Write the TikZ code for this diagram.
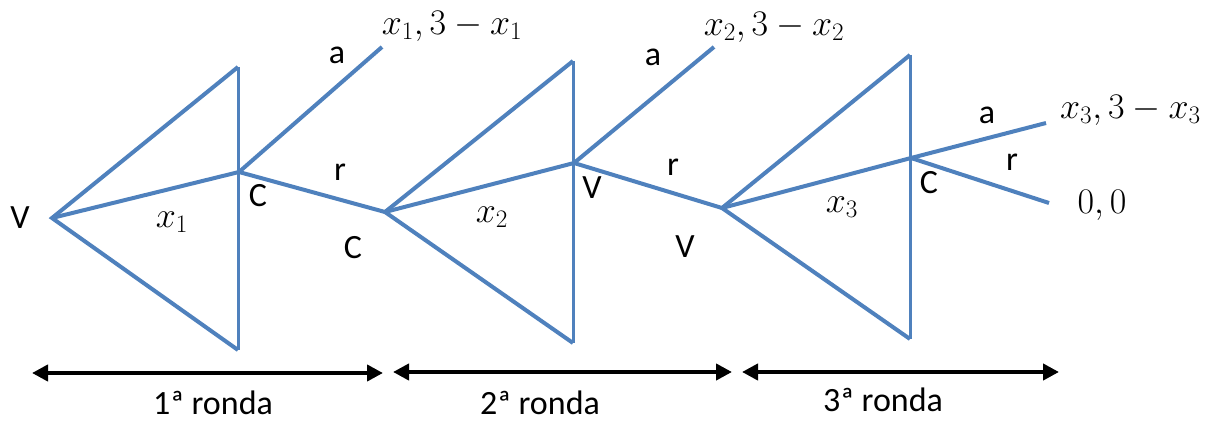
\documentclass[tikz,border=0pt]{standalone}
\usepackage{fix-cm}
\usepackage{fontspec}
\setmainfont{Carlito}
\usetikzlibrary{arrows.meta}
\definecolor{treeblue}{HTML}{4F81BD}
\begin{document}
\begin{tikzpicture}[x=1pt,y=-1pt,
  branch/.style={draw=treeblue,line width=4pt},
  side/.style={draw=treeblue,line width=3pt},
  lbl/.style={font=\fontsize{34}{40}\selectfont,inner sep=0pt},
  mlbl/.style={font=\fontsize{36}{42}\selectfont,inner sep=0pt},
  span/.style={draw=black,line width=4pt,{Triangle[length=16pt,width=16pt]}-{Triangle[length=16pt,width=16pt]}}]
\useasboundingbox (0,0) rectangle (1212,422);
% round 1
\coordinate (V1) at (52,218);
\coordinate (T1) at (238,67);
\coordinate (B1) at (238,350);
\coordinate (M1) at (239,172);
\coordinate (A1) at (382,47);
% round 2
\coordinate (V2) at (385,212);
\coordinate (T2) at (573,61);
\coordinate (B2) at (573,343);
\coordinate (M2) at (574,163);
\coordinate (A2) at (714,47);
% round 3
\coordinate (V3) at (722,208);
\coordinate (T3) at (910,55);
\coordinate (B3) at (910,339);
\coordinate (M3) at (911,158);
\coordinate (A3) at (1046,123);
\coordinate (R3) at (1049,203);
% arrows
\coordinate (L1) at (32,373);
\coordinate (E1) at (383,373);
\coordinate (L2) at (393,372);
\coordinate (E2) at (732,372);
\coordinate (L3) at (742,372);
\coordinate (E3) at (1059,372);

\foreach \i in {1,2,3}{
  \draw[branch] (T\i) -- (V\i) -- (B\i);
  \draw[side] (T\i) -- (B\i);
  \draw[branch] (V\i) -- (M\i);
}
\draw[branch] (M1) -- (A1);
\draw[branch] (M1) -- (V2);
\draw[branch] (M2) -- (A2);
\draw[branch] (M2) -- (V3);
\draw[branch] (M3) -- (A3);
\draw[branch] (M3) -- (R3);

\draw[span] (L1) -- (E1);
\draw[span] (L2) -- (E2);
\draw[span] (L3) -- (E3);

% labels
\node[lbl] (v1) at (20,218) {V};
\node[mlbl] (x1) at (172,222) {$x_1$};
\node[lbl] (c1) at (258,196) {C};
\node[lbl] (a1) at (337,55) {a};
\node[lbl] (r1) at (340,172) {r};
\node[lbl] (c1b) at (353,248) {C};
\node[mlbl] (p1) at (452,26) {$x_1, 3-x_1$};

\node[mlbl] (x2) at (492,217) {$x_2$};
\node[lbl] (v2) at (592,188) {V};
\node[lbl] (a2) at (653,57) {a};
\node[lbl] (r2) at (673,167) {r};
\node[lbl] (v2b) at (685,247) {V};
\node[mlbl] (p2) at (774,27) {$x_2, 3-x_2$};

\node[mlbl] (x3) at (842,207) {$x_3$};
\node[lbl] (c3) at (929,183) {C};
\node[lbl] (a3) at (987,115) {a};
\node[lbl] (r3) at (1012,162) {r};
\node[mlbl] (p0) at (1102,205) {$0, 0$};
\node[mlbl,anchor=west] (p3) at (1060,110) {$x_3, 3-x_3$};

\node[lbl] (ron1) at (213,403) {1ª ronda};
\node[lbl] (ron2) at (540,403) {2ª ronda};
\node[lbl] (ron3) at (883,400) {3ª ronda};
\end{tikzpicture}
\end{document}
